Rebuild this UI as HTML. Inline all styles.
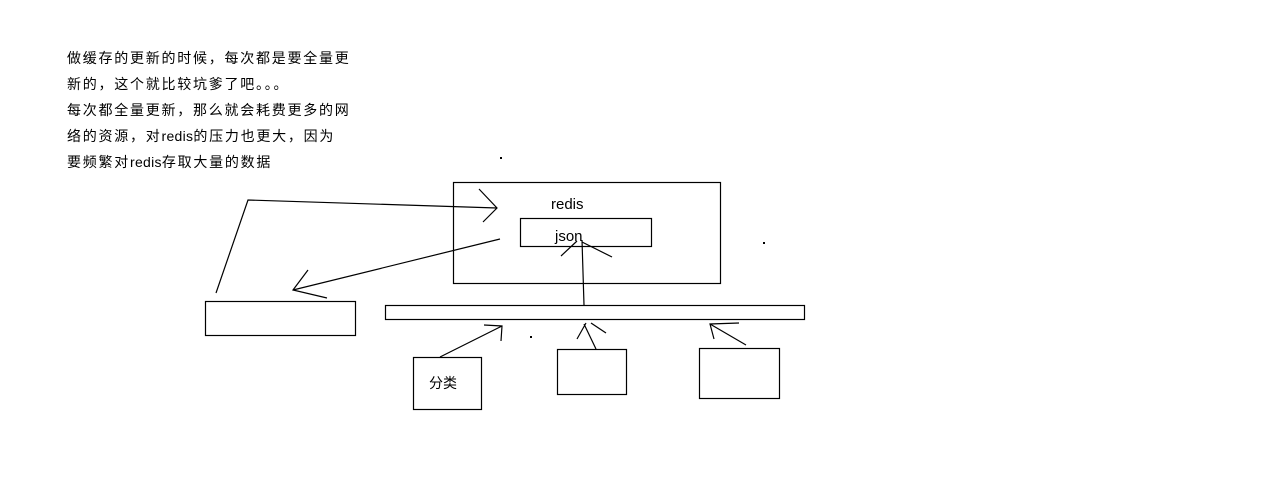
<!DOCTYPE html>
<html><head><meta charset="utf-8"><style>
body{margin:0;width:1274px;height:500px;background:#fff;overflow:hidden;position:relative;font-family:"Liberation Sans","Noto Sans CJK SC",sans-serif}
.note{position:absolute;left:67px;top:45px;font-size:14px;line-height:26px;letter-spacing:1.75px;color:#000;white-space:nowrap}
.note span{letter-spacing:0.3px}
svg{position:absolute;left:0;top:0}
</style></head><body>
<div class="note">做缓存的更新的时候，每次都是要全量更<br>新的，这个就比较坑爹了吧。。。<br>每次都全量更新，那么就会耗费更多的网<br>络的资源，对<span>redis</span>的压力也更大，因为<br>要频繁对<span>redis</span>存取大量的数据</div>
<svg width="1274" height="500" fill="none" stroke="#000" stroke-width="1.2">
<rect x="453.5" y="182.5" width="267" height="101"/>
<rect x="520.5" y="218.5" width="131" height="28"/>
<rect x="205.5" y="301.5" width="150" height="34"/>
<rect x="385.5" y="305.5" width="419" height="14"/>
<rect x="413.5" y="357.5" width="68" height="52"/>
<rect x="557.5" y="349.5" width="69" height="45"/>
<rect x="699.5" y="348.5" width="80" height="50"/>
<g>
<polyline points="216,293 248,200 497,208"/><polyline points="479,189 497,208 483,222"/>
<line x1="500" y1="239" x2="293" y2="290"/><polyline points="308,270 293,290 327,298"/>
<line x1="584" y1="305" x2="582" y2="240"/><polyline points="561,256 577,241"/><line x1="582" y1="242" x2="612" y2="257"/>
<line x1="440" y1="357" x2="502" y2="326"/><polyline points="484,325 502,326 501,341"/>
<line x1="596" y1="349" x2="584" y2="324"/><polyline points="577,339 586,323"/><line x1="591" y1="323" x2="606" y2="333"/>
<line x1="746" y1="345" x2="710" y2="324"/><polyline points="739,323 710,324 714,339"/>
</g>
<g fill="#000" stroke="none"><rect x="500" y="157" width="2" height="2"/><rect x="763" y="242" width="2" height="2"/><rect x="530" y="336" width="2" height="2"/></g>
<g fill="#000" stroke="none" font-family="Liberation Sans, Noto Sans CJK SC, sans-serif">
<text x="551" y="209" font-size="15">redis</text>
<text x="555" y="241" font-size="15">json</text>
<text x="429" y="388" font-size="14">分类</text>
</g>
</svg>
</body></html>
